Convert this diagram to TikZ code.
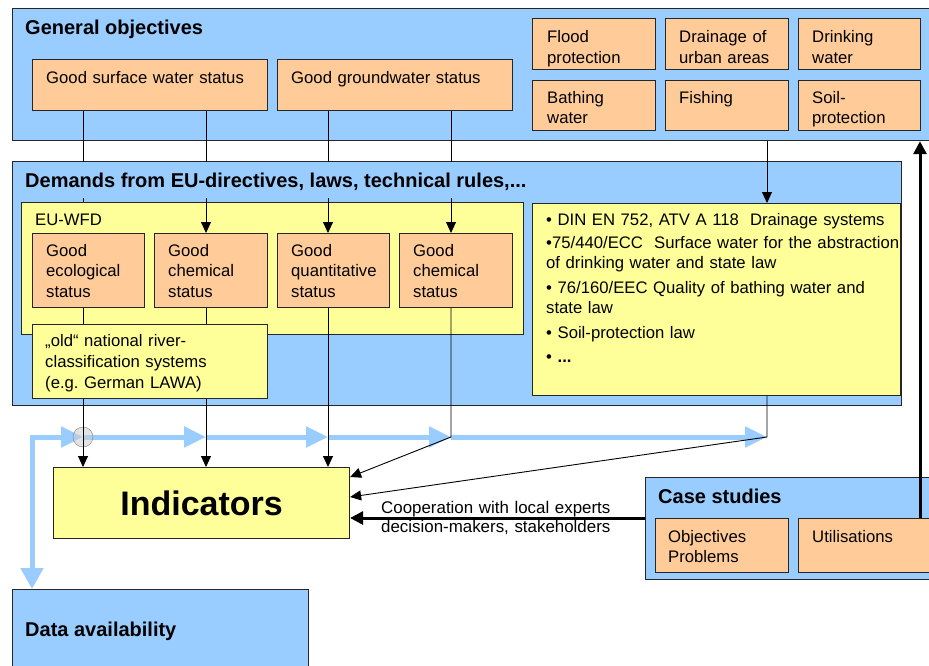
\documentclass[tikz,border=0pt]{standalone}
\usepackage{fontspec}
\setmainfont{Liberation Sans}
\frenchspacing
\usetikzlibrary{arrows.meta,calc}
\definecolor{bluebg}{HTML}{99CCFF}
\definecolor{orangebg}{HTML}{FFCC99}
\definecolor{yellowbg}{HTML}{FFFF99}
\definecolor{edge}{HTML}{262626}
\tikzset{
  panel/.style={draw=edge, line width=1.2pt, fill=bluebg, anchor=north west, inner sep=0},
  obox/.style={draw=edge, line width=1.1pt, fill=orangebg, anchor=north west, inner sep=0},
  ybox/.style={draw=edge, line width=1.1pt, fill=yellowbg, anchor=north west, inner sep=0},
  txt/.style={anchor=base west, inner sep=0, align=left, text width=#1, font=\fontsize{16.7}{20.5}\selectfont},
  txt/.default=300,
  ttl/.style={anchor=base west, inner sep=0, font=\fontsize{20}{24}\selectfont\bfseries},
  conn/.style={draw=black, line width=0.9pt},
  arr/.style={conn, -{Triangle[length=11pt,width=10pt]}},
  bigarr/.style={draw=black, line width=3pt, -{Triangle[length=13pt,width=13pt]}},
  flow/.style={draw=bluebg, line width=5pt},
  flowarr/.style={flow, -{Triangle[length=22pt,width=20pt]}},
}
\begin{document}
\begin{tikzpicture}[x=1pt,y=-1pt]
\useasboundingbox (0,0) rectangle (929,666);

% ---------- General objectives ----------
\node[panel, minimum width=935, minimum height=132] (gen) at (12,8) {};
\node[ttl] (genT) at (25,35) {General objectives};
\node[obox, minimum width=235, minimum height=51] (gsw) at (32,59) {};
\node[txt] (gswT) at (46,83.5) {Good surface water status};
\node[obox, minimum width=235, minimum height=51] (ggw) at (277,59) {};
\node[txt] (ggwT) at (291,83.5) {Good groundwater status};
\node[obox, minimum width=123, minimum height=51] (flood) at (532,18) {};
\node[txt, font=\fontsize{16.7}{21}\selectfont] (floodT) at (547,42.5) {Flood\\protection};
\node[obox, minimum width=123, minimum height=51] (drain) at (665,18) {};
\node[txt, font=\fontsize{16.7}{21}\selectfont] (drainT) at (679,42.5) {Drainage of\\urban areas};
\node[obox, minimum width=122, minimum height=51] (drink) at (798,18) {};
\node[txt, font=\fontsize{16.7}{21}\selectfont] (drinkT) at (812,42.5) {Drinking\\water};
\node[obox, minimum width=123, minimum height=50] (bath) at (532,80) {};
\node[txt, font=\fontsize{16.7}{20}\selectfont] (bathT) at (547,103.5) {Bathing\\water};
\node[obox, minimum width=123, minimum height=50] (fish) at (665,80) {};
\node[txt] (fishT) at (679,103.5) {Fishing};
\node[obox, minimum width=122, minimum height=50] (soil) at (798,80) {};
\node[txt, font=\fontsize{16.7}{20}\selectfont] (soilT) at (812,103.5) {Soil-\\protection};

% ---------- Demands ----------
\node[panel, minimum width=889, minimum height=244] (dem) at (12,161) {};
\node[ybox, minimum width=502, minimum height=132] (wfd) at (21,202) {};
\node[txt] (wfdT) at (35,225) {EU-WFD};
\node[obox, minimum width=112, minimum height=74] (eco) at (32,233) {};
\node[txt] (ecoT) at (46,256) {Good\\ecological\\status};
\node[obox, minimum width=113, minimum height=74] (chemA) at (154,233) {};
\node[txt] (chemAT) at (168,256) {Good\\chemical\\status};
\node[obox, minimum width=112, minimum height=74] (quant) at (277,233) {};
\node[txt] (quantT) at (291,256) {Good\\quantitative\\status};
\node[obox, minimum width=113, minimum height=74] (chemB) at (399,233) {};
\node[txt] (chemBT) at (413,256) {Good\\chemical\\status};
\node[ybox, minimum width=368, minimum height=192] (rules) at (532,203) {};
\node[txt=400, font=\fontsize{16.7}{20}\selectfont] (rulesT) at (546,225)
  {• DIN EN 752, ATV A 118\ \ Drainage systems\\[3pt]
   •75/440/ECC\ \ Surface water for the abstraction\\
   of drinking water and state law\\[5pt]
   • 76/160/EEC Quality of bathing water and\\
   state law\\[5pt]
   • Soil-protection law\\[4pt]
   • \textbf{...}};

% ---------- Indicators, case studies, data ----------
\node[ybox, minimum width=296, minimum height=71, font=\fontsize{34}{40}\selectfont\bfseries] (ind) at (53,467) {Indicators};
\node[panel, minimum width=300, minimum height=102] (case) at (645,477) {};
\node[ttl] (caseT) at (658,503) {Case studies};
\node[obox, minimum width=133, minimum height=54] (obj) at (655,518) {};
\node[txt, font=\fontsize{16.7}{20}\selectfont] (objT) at (668,542) {Objectives\\Problems};
\node[obox, minimum width=140, minimum height=54] (util) at (798,518) {};
\node[txt] (utilT) at (812,542) {Utilisations};
\node[panel, minimum width=296, minimum height=95] (data) at (12,589) {};
\node[ttl] (dataT) at (25,636) {Data availability};

% ---------- reference coordinates ----------
\coordinate (jg) at (32,437);
\coordinate (ja) at (83,437);
\coordinate (jb) at (206,437);
\coordinate (jc) at (328,437);
\coordinate (jd) at (451,437);
\coordinate (je) at (767,437);
\coordinate (jf) at (920,437);

% ---------- blue data flow ----------
\draw[flow, line join=miter, {Triangle[length=21pt,width=22pt]}-{Triangle[length=22pt,width=20pt]}]
  (data.north -| jg) -- (jg) -- (ja);
\draw[flowarr] (ja) -- (jb);
\draw[flowarr] (jb) -- (jc);
\draw[flowarr] (jc) -- (jd);
\draw[flowarr] (jd) -- (je);
\node[circle, draw=gray, fill=gray!40, fill opacity=0.55, minimum size=20, inner sep=0] (knot) at (ja) {};

% ---------- black connectors ----------
\draw[conn] (gsw.south -| ja) -- (wfd.north -| ja);
\draw[arr] (gsw.south -| jb) -- (chemA.north -| jb);
\draw[arr] (ggw.south -| jc) -- (quant.north -| jc);
\draw[arr] (ggw.south -| jd) -- (chemB.north -| jd);
\draw[arr] (gen.south -| je) -- (rules.north -| je);
\draw[arr] (eco.south -| ja) -- (ind.north -| ja);
\draw[arr] (chemA.south -| jb) -- (ind.north -| jb);
\draw[arr] (quant.south -| jc) -- (ind.north -| jc);
\draw[arr] (chemB.south -| jd) -- (jd) -- ($(ind.north east)+(0,10)$);
\draw[arr] (rules.south -| je) -- (je) -- ($(ind.north east)+(0,30)$);
\draw[bigarr] (util.north -| jf) -- (gen.south -| jf);
\draw[bigarr] (case.west |- util.north) -- (ind.east |- util.north);
\node[txt, font=\fontsize{16.9}{19}\selectfont] (coopT) at (381,513) {Cooperation with local experts\\decision-makers, stakeholders};

% ---------- items drawn over the connectors ----------
\node[ttl, anchor=north west, fill=bluebg, minimum height=36, inner xsep=12, inner ysep=0, text height=16pt, text depth=2pt] (demT) at (13,162) {Demands from EU-directives, laws, technical rules,...};
\node[ybox, minimum width=235, minimum height=74] (old) at (32,324) {};
\node[txt, font=\fontsize{16.7}{21}\selectfont] (oldT) at (45,346) {„old“ national river-\\classification systems\\(e.g. German LAWA)};
\end{tikzpicture}
\end{document}
